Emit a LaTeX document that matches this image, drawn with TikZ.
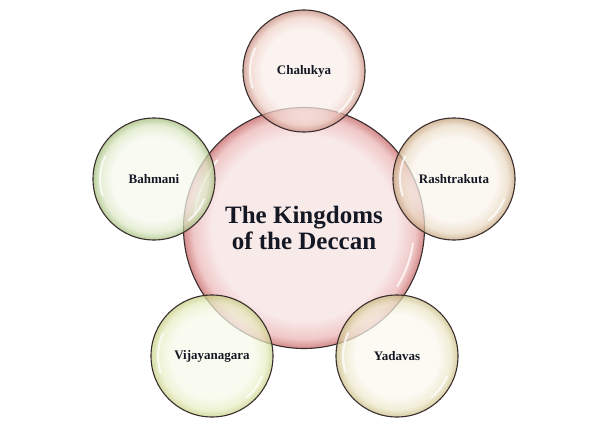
\documentclass[tikz,border=0pt]{standalone}
\usepackage{fontspec}
\setmainfont{Liberation Serif}
\definecolor{txt}{HTML}{141824}
\definecolor{rim}{HTML}{3A2E2E}
\definecolor{kIn}{HTML}{F9EAEA}\definecolor{kMid}{HTML}{F0C8C8}\definecolor{kEdge}{HTML}{D48A8A}
\definecolor{cIn}{HTML}{FAEEEA}\definecolor{cMid}{HTML}{EED0C6}\definecolor{cEdge}{HTML}{C4887A}
\definecolor{bIn}{HTML}{F6F9EE}\definecolor{bMid}{HTML}{DCE8C6}\definecolor{bEdge}{HTML}{A0BC78}
\definecolor{rIn}{HTML}{FAF4EC}\definecolor{rMid}{HTML}{EADAC4}\definecolor{rEdge}{HTML}{C4A078}
\definecolor{vIn}{HTML}{F7F9EA}\definecolor{vMid}{HTML}{E8EEC4}\definecolor{vEdge}{HTML}{C4CE80}
\definecolor{yIn}{HTML}{FAF8EE}\definecolor{yMid}{HTML}{ECE6C8}\definecolor{yEdge}{HTML}{C8BC80}
\pgfdeclareradialshading{shK}{\pgfpoint{0bp}{0bp}}{color(0bp)=(kIn); color(19bp)=(kIn); color(23bp)=(kMid); color(25bp)=(kEdge); color(50bp)=(kEdge)}
\pgfdeclareradialshading{shC}{\pgfpoint{0bp}{0bp}}{color(0bp)=(cIn); color(17bp)=(cIn); color(22bp)=(cMid); color(25bp)=(cEdge); color(50bp)=(cEdge)}
\pgfdeclareradialshading{shB}{\pgfpoint{0bp}{0bp}}{color(0bp)=(bIn); color(17bp)=(bIn); color(22bp)=(bMid); color(25bp)=(bEdge); color(50bp)=(bEdge)}
\pgfdeclareradialshading{shR}{\pgfpoint{0bp}{0bp}}{color(0bp)=(rIn); color(17bp)=(rIn); color(22bp)=(rMid); color(25bp)=(rEdge); color(50bp)=(rEdge)}
\pgfdeclareradialshading{shV}{\pgfpoint{0bp}{0bp}}{color(0bp)=(vIn); color(17bp)=(vIn); color(22bp)=(vMid); color(25bp)=(vEdge); color(50bp)=(vEdge)}
\pgfdeclareradialshading{shY}{\pgfpoint{0bp}{0bp}}{color(0bp)=(yIn); color(17bp)=(yIn); color(22bp)=(yMid); color(25bp)=(yEdge); color(50bp)=(yEdge)}
\tikzset{
  bubble/.style={circle, draw=rim, line width=1.1pt, minimum size=122pt, inner sep=0pt,
    fill opacity=0.72, text opacity=1, text=txt, font=\bfseries\fontsize{13}{15}\selectfont},
  hub/.style={circle, draw=rim, line width=1.1pt, minimum size=241pt, inner sep=0pt,
    text=txt, align=center, font=\bfseries\fontsize{25}{26}\selectfont},
  shine/.style={white, line width=2pt, line cap=round, opacity=0.75}
}
\begin{document}
\begin{tikzpicture}[x=1pt,y=-1pt]
\useasboundingbox (0,0) rectangle (606,444);
\node[hub, shading=shK] (k) at (304,228) {The Kingdoms\\of the Deccan};
\draw[shine] ([shift={(188:110)}]k.center) arc[start angle=188, end angle=218, radius=110];
\draw[shine] ([shift={(8:110)}]k.center) arc[start angle=8, end angle=32, radius=110];
\node[bubble, shading=shC] (c) at (304,71) {Chalukya};
\node[bubble, shading=shB] (b) at (154,179) {Bahmani};
\node[bubble, shading=shR] (r) at (454,179) {Rashtrakuta};
\node[bubble, shading=shV] (v) at (212,356) {Vijayanagara};
\node[bubble, shading=shY] (y) at (397,356) {Yadavas};
\foreach \n in {c,b,r,v,y}{
  \draw[shine] ([shift={(162:54)}]\n.center) arc[start angle=162, end angle=205, radius=54];
  \draw[shine] ([shift={(22:54)}]\n.center) arc[start angle=22, end angle=50, radius=54];
}
\end{tikzpicture}
\end{document}
